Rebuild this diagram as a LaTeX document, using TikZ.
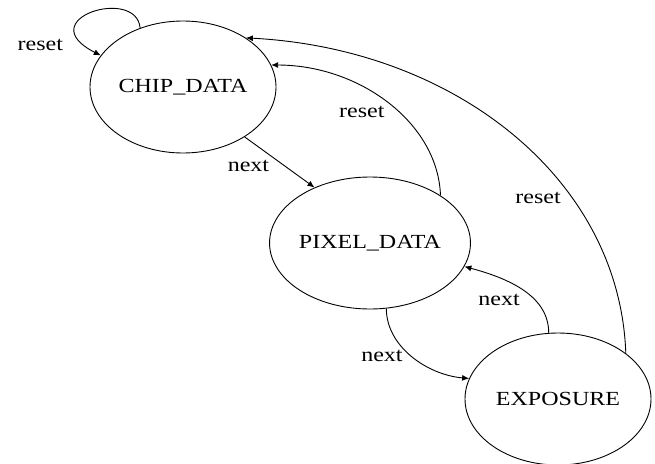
\documentclass[tikz,border=0pt]{standalone}
\usepackage{fontspec}
\setmainfont[FakeStretch=1.2]{Liberation Serif}
\usetikzlibrary{arrows.meta,shapes.geometric}

\begin{document}
\begin{tikzpicture}[
 x=1pt,y=1pt,
 state/.style={
  ellipse,
  draw=black,
  line width=0.9pt,
  minimum width=186pt,
  minimum height=132pt,
  inner sep=0pt,
  font=\fontsize{20}{24}\selectfont
 },
 trans/.style={-{Latex[length=7pt,width=6pt]},line width=0.9pt},
 lbl/.style={font=\fontsize{20}{24}\selectfont,inner sep=3pt}
]
 \useasboundingbox (0,-463) rectangle (655,0);

 \node[state] (chip)  at (183,-87)  {CHIP\_DATA};
 \node[state] (pixel) at (370,-243) {PIXEL\_DATA};
 \node[state] (expo)  at (558,-399) {EXPOSURE};

 \draw[trans] (chip.126) to[out=95,in=153,out distance=42,in distance=80]
  node[lbl,pos=0.9,left=18pt] {reset} (chip.159);
 \draw[trans] (chip.-39) --
  node[lbl,pos=0.4,below left] {next} (pixel.135);
 \draw[trans] (pixel.34) to[out=92,in=0,out distance=73,in distance=88]
  node[lbl,pos=0.5,below left] {reset} (chip.14);
 \draw[trans] (expo.34) to[out=92,in=-3,out distance=174,in distance=210]
  node[lbl,pos=0.33,left=8pt] {reset} (chip.38);
 \draw[trans] (pixel.-76) to[out=-90,in=175,out distance=38,in distance=42]
  node[lbl,pos=0.5,left=6pt] {next} (expo.167);
 \draw[trans] (expo.98) to[out=90,in=-15,out distance=37,in distance=46]
  node[lbl,pos=0.5,below left] {next} (pixel.-14);
\end{tikzpicture}
\end{document}
